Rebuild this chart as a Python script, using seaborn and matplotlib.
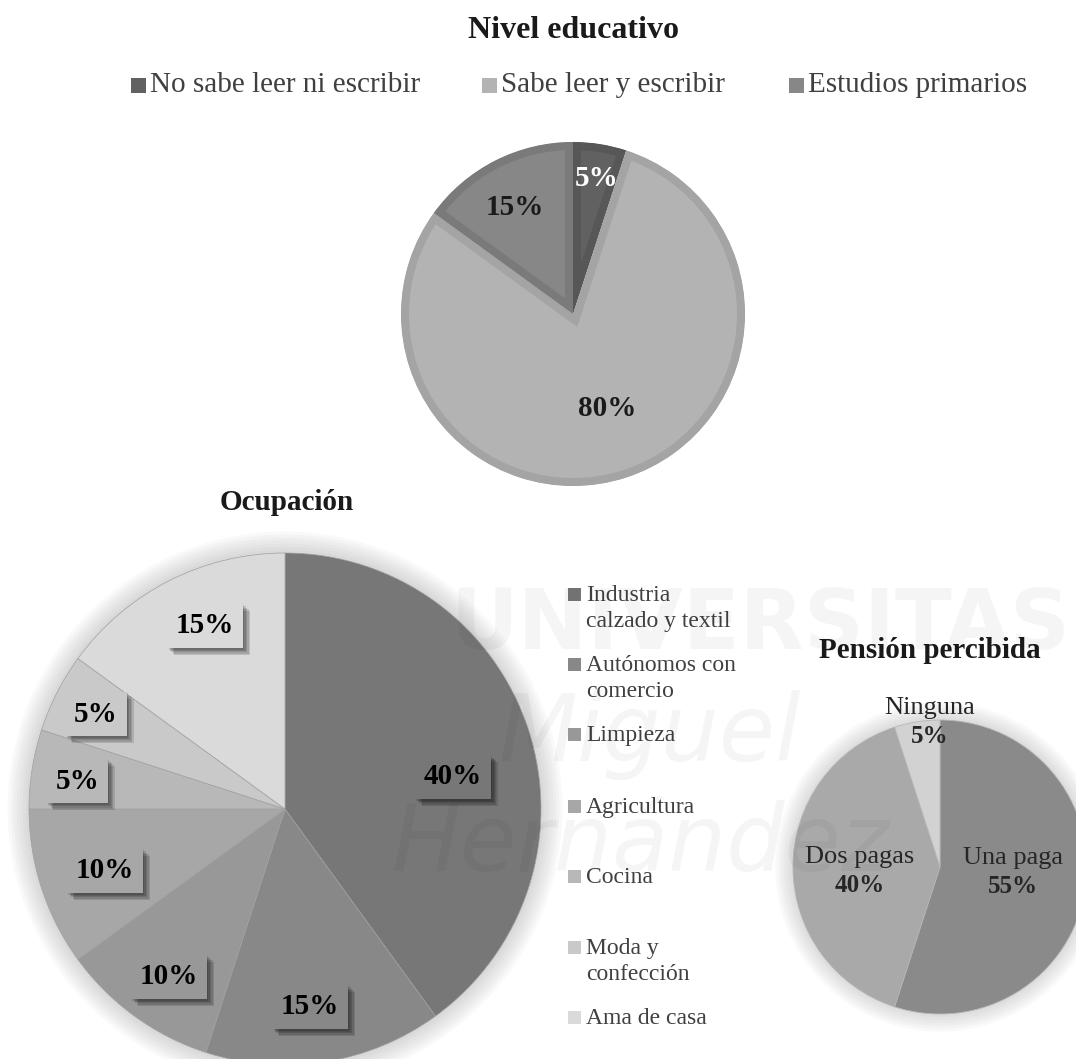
import matplotlib
matplotlib.use("Agg")
import matplotlib.pyplot as plt
import matplotlib.patheffects as pe
from matplotlib.patches import Rectangle, Circle, Wedge
import seaborn as sns

# ---- data ----
edu_labels = ["No sabe leer ni escribir", "Sabe leer y escribir", "Estudios primarios"]
edu_values = [5, 80, 15]
edu_colors = ["#616161", "#b3b3b3", "#878787"]
edu_edges = ["#575757", "#a4a4a4", "#7a7a7a"]
edu_text_colors = ["white", "#1a1a1a", "#1a1a1a"]

occ_labels = ["Industria\ncalzado y textil", "Autónomos con\ncomercio", "Limpieza",
              "Agricultura", "Cocina", "Moda y\nconfección", "Ama de casa"]
occ_values = [40, 15, 10, 10, 5, 5, 15]
occ_colors = ["#777777", "#888888", "#989898", "#a7a7a7", "#b8b8b8", "#c9c9c9", "#dadada"]

pen_labels = ["Una paga", "Dos pagas", "Ninguna"]
pen_values = [55, 40, 5]
pen_colors = ["#8a8a8a", "#a9a9a9", "#d2d2d2"]

# label anchors in pie units (radius = 1)
edu_label_pos = [(0.14, 0.79), (0.20, -0.55), (-0.34, 0.62)]
occ_label_pos = [(0.656, 0.125), (0.098, -0.773), (-0.453, -0.656), (-0.703, -0.242),
                 (-0.812, 0.109), (-0.738, 0.371), (-0.312, 0.715)]
pen_label_pos = [(0.497, 0.061), (-0.544, 0.068), (-0.068, 1.082)]

sns.set_theme(style="white")
plt.rcParams["font.family"] = ["Liberation Serif", "DejaVu Serif"]

W, H = 1076, 1059
fig = plt.figure(figsize=(W / 100, H / 100), dpi=100)
fig.patch.set_facecolor("white")


def fx(px):
    return px / W


def fy(py):
    return 1 - py / H


def pie_axes(cx, cy, r, half):
    ax = fig.add_axes([fx(cx - half), fy(cy + half), 2 * half / W, 2 * half / H])
    lim = half / r
    return ax, lim


def finish(ax, lim):
    ax.set_xlim(-lim, lim)
    ax.set_ylim(-lim, lim)
    ax.set_aspect("auto")
    ax.axis("off")


def soft_glow(ax, steps=7, spread=0.012, alpha=0.035):
    for k in range(steps, 0, -1):
        ax.add_patch(Circle((0, 0), 1 + k * spread, color="#606060", alpha=alpha,
                            lw=0, zorder=0))


def box_shadow():
    effects = [pe.SimplePatchShadow(offset=(k, -k), shadow_rgbFace="black", alpha=0.13)
               for k in (1, 2, 3, 4, 5)]
    return effects + [pe.Normal()]


# ---- Nivel educativo ----
fig.text(fx(573), fy(31), "Nivel educativo", ha="center", va="center",
         fontsize=23, fontweight="bold", color="#1a1a1a")
leg_sq = [131, 482, 789]
for x0, lab, col in zip(leg_sq, edu_labels, edu_colors):
    fig.add_artist(Rectangle((fx(x0), fy(85 + 8)), 15 / W, 15 / H, color=col,
                             transform=fig.transFigure, lw=0))
    fig.text(fx(x0 + 19), fy(85), lab, ha="left", va="center", fontsize=21,
             color="#404040")

ax1, lim1 = pie_axes(573, 314, 172, 200)
wedges, _ = ax1.pie(edu_values, colors=edu_colors, startangle=90, counterclock=False,
                    wedgeprops=dict(linewidth=11.5, joinstyle="miter"))
for w, ec in zip(wedges, edu_edges):
    # inner border: stroke clipped to the wedge's own outline
    w.set_edgecolor(ec)
    clip = Wedge(w.center, w.r, w.theta1, w.theta2, transform=ax1.transData)
    w.set_clip_on(True)
    w.set_clip_path(clip)
for (x, y), v, tc in zip(edu_label_pos, edu_values, edu_text_colors):
    ax1.text(x, y, f"{v}%", ha="center", va="center", fontsize=21,
             fontweight="bold", color=tc)
finish(ax1, lim1)

# ---- Ocupación ----
fig.text(fx(287), fy(503), "Ocupación", ha="center", va="center",
         fontsize=21, fontweight="bold", color="#1a1a1a")
ax2, lim2 = pie_axes(285, 809, 256, 285)
soft_glow(ax2)
wedges2, _ = ax2.pie(occ_values, colors=occ_colors, startangle=90, counterclock=False,
                     wedgeprops=dict(linewidth=0.5, edgecolor="#a0a0a0"))
for (x, y), v, c in zip(occ_label_pos, occ_values, occ_colors):
    t = ax2.text(x, y, f"{v}%", ha="center", va="center", fontsize=21,
                 fontweight="bold", color="black", zorder=5,
                 bbox=dict(boxstyle="square,pad=0.3", fc=c, ec="none"))
    t.get_bbox_patch().set_path_effects(box_shadow())
finish(ax2, lim2)

# legend of occupations
occ_leg_y = [595, 665, 735, 807, 877, 948, 1018]
for y0, lab, col in zip(occ_leg_y, occ_labels, occ_colors):
    fig.add_artist(Rectangle((fx(568), fy(y0 + 6)), 13 / W, 13 / H, color=col,
                             transform=fig.transFigure, lw=0))
    fig.text(fx(586), fy(y0 - 10), lab, ha="left", va="top", fontsize=17,
             color="#404040", linespacing=1.33)

# ---- Pensión percibida ----
fig.text(fx(930), fy(650), "Pensión percibida", ha="center", va="center",
         fontsize=21, fontweight="bold", color="#1a1a1a")
ax3, lim3 = pie_axes(940, 867, 147, 170)
soft_glow(ax3, steps=6, spread=0.02, alpha=0.035)
wedges3, _ = ax3.pie(pen_values, colors=pen_colors, startangle=90, counterclock=False,
                     wedgeprops=dict(linewidth=0.6, edgecolor="#b5b5b5"))
for (x, y), lab, v in zip(pen_label_pos, pen_labels, pen_values):
    ax3.text(x, y, lab, ha="center", va="center", fontsize=19,
             color="#262626", zorder=5)
    ax3.text(x, y - 0.197, f"{v}%", ha="center", va="center", fontsize=18,
             fontweight="bold", color="#262626", zorder=5)
finish(ax3, lim3)

# faint repository watermark
wm = dict(color="#000000", alpha=0.04, zorder=10)
fig.text(fx(760), fy(625), "UNIVERSITAS", ha="center", va="center", fontsize=60,
         fontweight="bold", family="DejaVu Sans", **wm)
fig.text(fx(650), fy(735), "Miguel", ha="center", va="center", fontsize=66,
         style="italic", family="DejaVu Sans", **wm)
fig.text(fx(640), fy(845), "Hernández", ha="center", va="center", fontsize=66,
         style="italic", family="DejaVu Sans", **wm)

fig.savefig("out.png", dpi=100)
